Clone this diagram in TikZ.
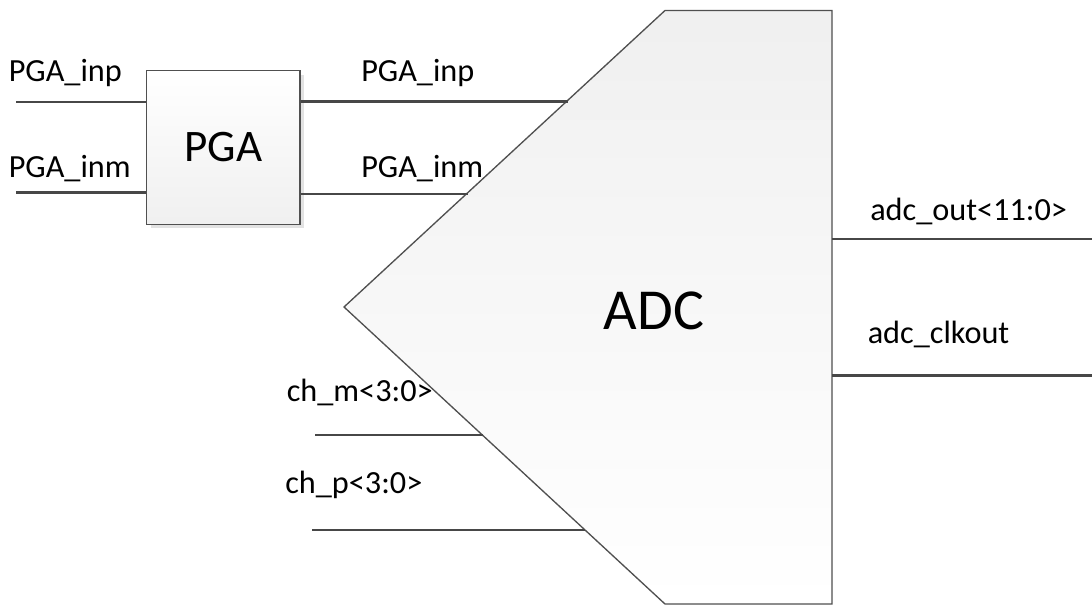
\documentclass[tikz,border=0pt]{standalone}
\usepackage{fontspec}
\setmainfont{Carlito}
\definecolor{wirecol}{HTML}{474747}
\definecolor{edgecol}{HTML}{505050}
\definecolor{shadowcol}{HTML}{E2E2E2}
\begin{document}
\begin{tikzpicture}[x=0.75pt,y=-0.75pt,
  wire/.style={line width=2.1pt, draw=wirecol},
  lbl/.style={anchor=base west, inner sep=0pt, font=\fontsize{24.2}{29}\selectfont},
  blockedge/.style={draw=edgecol, line width=1pt},
]
\useasboundingbox (0,0) rectangle (1092,605);

% ADC outline coordinates
\coordinate (a1) at (665,10.5);
\coordinate (a2) at (832,10.5);
\coordinate (a3) at (832,604);
\coordinate (a4) at (665,604);
\coordinate (a5) at (344,307);

% ADC shadow and body
\fill[shadowcol, shift={(4,4)}] (a1) -- (a2) -- (a3) -- (a4) -- (a5) -- cycle;
\shade[top color=black!6, bottom color=white, blockedge] (a1) -- (a2) -- (a3) -- (a4) -- (a5) -- cycle;
\node[inner sep=0pt, anchor=base, font=\fontsize{43.5}{50}\selectfont] (adctext) at (654,329.3) {ADC};

% PGA block
\fill[shadowcol] (150.7,74.7) rectangle (304,228.3);
\node[minimum width=115pt, minimum height=115.2pt, inner sep=0pt,
      top color=white, bottom color=black!6, blockedge,
      font=\fontsize{33.8}{40}\selectfont] (pga) at (223.3,147.5) {PGA};

% wire end coordinates
\coordinate (inpL) at (16,102);
\coordinate (inmL) at (16,192.5);
\coordinate (inpA) at (567.5,101.7);
\coordinate (inmA) at (468,194);
\coordinate (chmL) at (315,435);
\coordinate (chmA) at (482.5,435);
\coordinate (chpL) at (312,530);
\coordinate (chpA) at (585,530);
\coordinate (outA) at (832,239);
\coordinate (outR) at (1092,239);
\coordinate (clkA) at (832,375.7);
\coordinate (clkR) at (1092,375.7);

% wires
\draw[wire] (inpL) -- (pga.west |- inpL);
\draw[wire] (inmL) -- (pga.west |- inmL);
\draw[wire] (pga.east |- inpA) -- (inpA);
\draw[wire] (pga.east |- inmA) -- (inmA);
\draw[wire] (chmL) -- (chmA);
\draw[wire] (chpL) -- (chpA);
\draw[wire] (outA) -- (outR);
\draw[wire] (clkA) -- (clkR);

% labels
\node[lbl] (l1) at (8.5,81.7) {PGA\_inp};
\node[lbl] (l2) at (8.5,178) {PGA\_inm};
\node[lbl] (l3) at (361,81.7) {PGA\_inp};
\node[lbl] (l4) at (361,177.7) {PGA\_inm};
\node[lbl] (l5) at (870,220.7) {adc\_out<11:0>};
\node[lbl] (l6) at (867.5,343.3) {adc\_clkout};
\node[lbl] (l7) at (286.5,401.7) {ch\_m<3:0>};
\node[lbl] (l8) at (285,493.3) {ch\_p<3:0>};
\end{tikzpicture}
\end{document}
